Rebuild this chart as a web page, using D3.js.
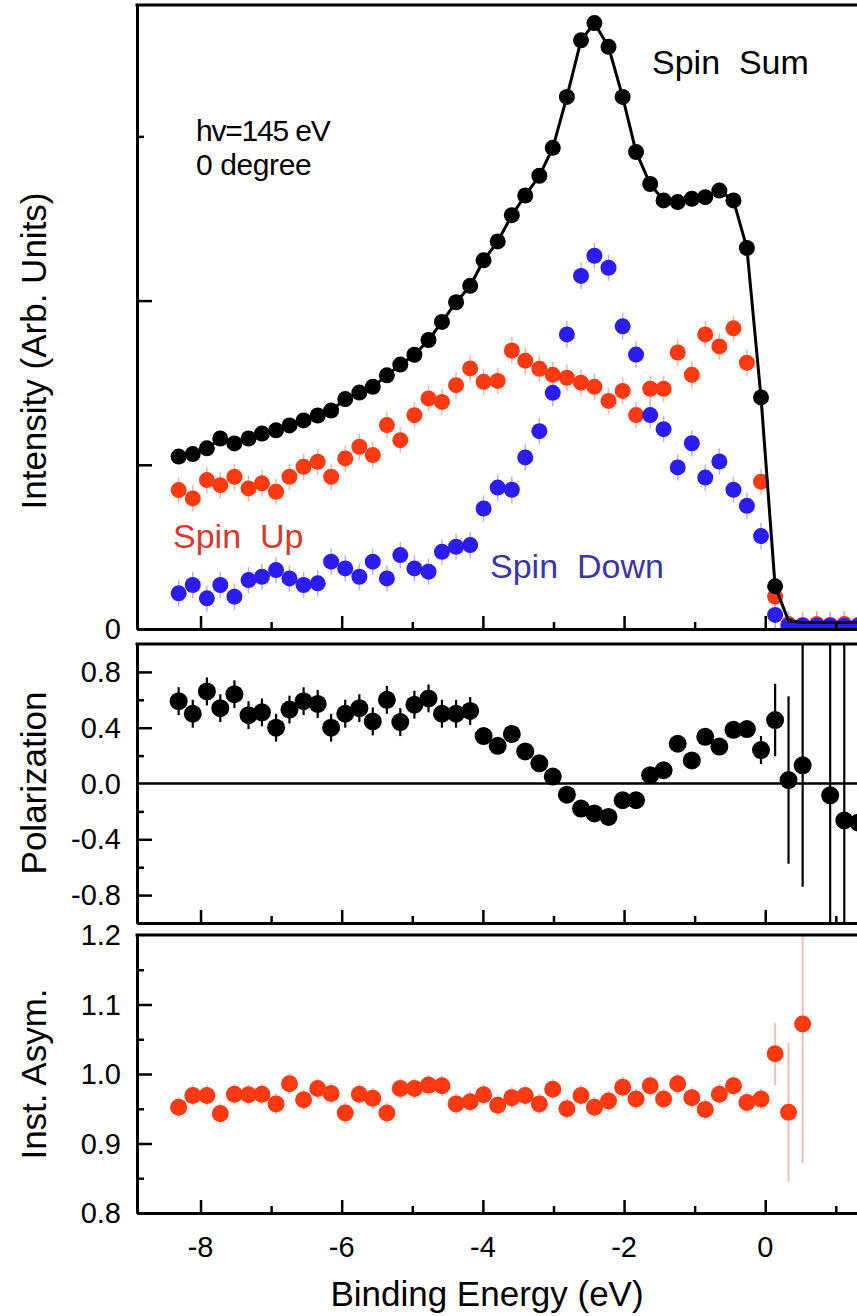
<!DOCTYPE html>
<html>
<head>
<meta charset="utf-8">
<script src="https://cdn.jsdelivr.net/npm/d3@7"></script>
<style>
  body { margin: 0; background: #fff; }
  svg text { font-family: "Liberation Sans", Arial, Helvetica, sans-serif; }
</style>
</head>
<body>
<svg id="chart" width="857" height="1316"></svg>
<script>
// binding energy of each measured point (eV)
const energy = [
  -8.31, -8.11, -7.91, -7.72, -7.52, -7.32, -7.13, -6.93, -6.74, -6.54,
  -6.34, -6.15, -5.95, -5.75, -5.56, -5.36, -5.17, -4.97, -4.77, -4.58,
  -4.38, -4.18, -3.99, -3.79, -3.59, -3.40, -3.20, -3.01, -2.81, -2.61,
  -2.42, -2.22, -2.02, -1.83, -1.63, -1.44, -1.24, -1.04, -0.85, -0.65,
  -0.45, -0.26, -0.06, 0.14, 0.33, 0.53, 0.73, 0.92, 1.12, 1.32
];

// intensity panel (arb. units)
const spinSum = [
  1.05, 1.065, 1.10, 1.16, 1.13, 1.16, 1.19, 1.21, 1.24, 1.27,
  1.30, 1.33, 1.40, 1.44, 1.475, 1.545, 1.61, 1.67, 1.76, 1.87,
  1.99, 2.09, 2.245, 2.36, 2.52, 2.64, 2.76, 2.93, 3.24, 3.585,
  3.69, 3.545, 3.24, 2.905, 2.71, 2.61, 2.60, 2.62, 2.63, 2.67,
  2.61, 2.32, 1.41, 0.26, 0.05, 0.04, 0.04, 0.04, 0.04, 0.04
];
const spinUp = [
  0.846, 0.795, 0.907, 0.876, 0.927, 0.856, 0.887, 0.836, 0.927, 0.988,
  1.018, 0.927, 1.039, 1.110, 1.059, 1.242, 1.150, 1.302, 1.404, 1.383,
  1.485, 1.587, 1.505, 1.511, 1.696, 1.634, 1.585, 1.548, 1.530, 1.500,
  1.475, 1.389, 1.450, 1.303, 1.463, 1.463, 1.684, 1.548, 1.794, 1.721,
  1.831, 1.622, 0.897, 0.197, 0.030, 0.025, 0.030, 0.025, 0.030, 0.025
];
const spinDown = [
  0.217, 0.268, 0.187, 0.268, 0.197, 0.298, 0.318, 0.359, 0.308, 0.268,
  0.278, 0.410, 0.369, 0.318, 0.410, 0.308, 0.450, 0.369, 0.349, 0.470,
  0.501, 0.511, 0.734, 0.861, 0.848, 1.045, 1.205, 1.438, 1.794, 2.150,
  2.273, 2.200, 1.843, 1.671, 1.303, 1.217, 0.984, 1.131, 0.922, 1.020,
  0.848, 0.750, 0.566, 0.086, 0.020, 0.020, 0.020, 0.020, 0.020, 0.020
];
const intensityErr = 0.08;

// polarization panel
const polarization = [
  0.59, 0.50, 0.66, 0.54, 0.64, 0.49, 0.51, 0.40, 0.53, 0.59,
  0.57, 0.40, 0.50, 0.54, 0.445, 0.60, 0.44, 0.565, 0.61, 0.50,
  0.50, 0.52, 0.34, 0.27, 0.355, 0.23, 0.145, 0.05, -0.08, -0.18,
  -0.215, -0.24, -0.12, -0.12, 0.06, 0.095, 0.285, 0.165, 0.335, 0.265,
  0.385, 0.39, 0.24, 0.455, 0.025, 0.13, null, -0.085, -0.265, -0.28
];
const polErr = [
  0.1, 0.1, 0.1, 0.1, 0.1, 0.1, 0.1, 0.1, 0.1, 0.1,
  0.1, 0.1, 0.1, 0.1, 0.1, 0.1, 0.1, 0.1, 0.1, 0.1,
  0.1, 0.1, 0.05, 0.05, 0.05, 0.05, 0.05, 0.05, 0.05, 0.05,
  0.05, 0.05, 0.05, 0.05, 0.05, 0.05, 0.05, 0.05, 0.05, 0.05,
  0.05, 0.05, 0.1, 0.26, 0.6, 0.87, null, 5, 5, 5
];

// instrument asymmetry panel
const instAsym = [
  0.952, 0.969, 0.969, 0.943, 0.971, 0.970, 0.971, 0.957, 0.986, 0.963,
  0.979, 0.972, 0.944, 0.971, 0.965, 0.944, 0.979, 0.979, 0.984, 0.983,
  0.957, 0.960, 0.970, 0.955, 0.966, 0.969, 0.957, 0.978, 0.950, 0.969,
  0.952, 0.961, 0.981, 0.964, 0.983, 0.964, 0.986, 0.966, 0.949, 0.971,
  0.983, 0.959, 0.964, 1.029, 0.945, 1.072
];
const asymErr = [
  0.015, 0.015, 0.015, 0.015, 0.015, 0.015, 0.015, 0.015, 0.015, 0.015,
  0.015, 0.015, 0.015, 0.015, 0.015, 0.015, 0.015, 0.015, 0.015, 0.015,
  0.015, 0.015, 0.015, 0.015, 0.015, 0.015, 0.015, 0.015, 0.015, 0.015,
  0.015, 0.015, 0.015, 0.015, 0.015, 0.015, 0.015, 0.015, 0.015, 0.015,
  0.015, 0.015, 0.015, 0.045, 0.1, 0.2
];

// ticks
const xMajor = [-8, -6, -4, -2, 0];
const xMinor = [-7, -5, -3, -1, 1];
const intMajor = [1, 2];
const intMinor = [3];
const polMajor = [0.8, 0.4, -0.4, -0.8];
const polMinor = [0.6, 0.2, -0.2, -0.6];
const polLabels = [0.8, 0.4, 0, -0.4, -0.8];
const asymMajor = [1.1, 1.0, 0.9];
const asymMinor = [1.15, 1.05, 0.95, 0.85];
const asymLabels = [1.2, 1.1, 1.0, 0.9, 0.8];

const W = 857, H = 1316;
const left = 137, right = 857;
const red = '#ff3a12', blue = '#2b1cf2', ink = '#000';

const svg = d3.select('#chart');
svg.append('rect').attr('width', W).attr('height', H).attr('fill', '#fff');

const x = d3.scaleLinear().domain([-8.9, 1.3]).range([left, right]);
const yInt = d3.scaleLinear().domain([0, 3.8]).range([629, 5]);
const yPol = d3.scaleLinear().domain([-1, 1]).range([923, 644]);
const yAsym = d3.scaleLinear().domain([0.8, 1.2]).range([1213, 935]);

const idx = d3.range(energy.length);

function makeClip(id, y) {
  svg.append('clipPath').attr('id', id).append('rect')
    .attr('x', left).attr('y', y.range()[1])
    .attr('width', right - left).attr('height', y.range()[0] - y.range()[1]);
}

// frame with inward ticks, no labels
function frame(y, yMajor, yMinor) {
  const g = svg.append('g');
  const bottom = y.range()[0], top = y.range()[1];

  const bx = g.append('g').attr('transform', `translate(0,${bottom})`);
  bx.append('g').call(d3.axisBottom(x).tickValues(xMajor).tickSize(-13).tickSizeOuter(0).tickFormat(''));
  bx.append('g').call(d3.axisBottom(x).tickValues(xMinor).tickSize(-7).tickSizeOuter(0).tickFormat(''));

  const ly = g.append('g').attr('transform', `translate(${left},0)`);
  ly.append('g').call(d3.axisLeft(y).tickValues(yMajor).tickSize(-15).tickSizeOuter(0).tickFormat(''));
  ly.append('g').call(d3.axisLeft(y).tickValues(yMinor).tickSize(-7).tickSizeOuter(0).tickFormat(''));

  g.selectAll('.domain').attr('stroke', ink).attr('stroke-width', 3);
  g.selectAll('.tick line').attr('stroke', ink).attr('stroke-width', 2.5);

  g.append('line')
    .attr('x1', left - 1.5).attr('x2', right)
    .attr('y1', top).attr('y2', top)
    .attr('stroke', ink).attr('stroke-width', 3);
  return g;
}

function errorBars(g, y, vals, errs, color, width) {
  g.append('g').selectAll('line')
    .data(idx.filter(i => i < vals.length && vals[i] != null && errs[i] != null))
    .join('line')
    .attr('x1', i => x(energy[i])).attr('x2', i => x(energy[i]))
    .attr('y1', i => y(vals[i] - errs[i])).attr('y2', i => y(vals[i] + errs[i]))
    .attr('stroke', color).attr('stroke-width', width);
}

function dots(g, y, vals, color, r) {
  g.append('g').selectAll('circle')
    .data(idx.filter(i => i < vals.length && vals[i] != null))
    .join('circle')
    .attr('cx', i => x(energy[i])).attr('cy', i => y(vals[i]))
    .attr('r', r).attr('fill', color);
}

// ---------- intensity panel ----------
makeClip('clip-int', yInt);
const gInt = svg.append('g').attr('clip-path', 'url(#clip-int)');
errorBars(gInt, yInt, spinUp, spinUp.map(() => intensityErr), '#f9b3a5', 1.5);
errorBars(gInt, yInt, spinDown, spinDown.map(() => intensityErr), '#b7b0f4', 1.5);
dots(gInt, yInt, spinUp, red, 8);
dots(gInt, yInt, spinDown, blue, 8);
gInt.append('path')
  .datum(idx)
  .attr('fill', 'none').attr('stroke', ink).attr('stroke-width', 3)
  .attr('d', d3.line().x(i => x(energy[i])).y(i => yInt(spinSum[i])));
dots(gInt, yInt, spinSum.slice(0, 44), ink, 8);
frame(yInt, intMajor, intMinor);

svg.append('text').attr('x', 121).attr('y', yInt(0)).attr('dy', '0.35em')
  .attr('text-anchor', 'end').attr('font-size', 29).text('0');

// ---------- polarization panel ----------
makeClip('clip-pol', yPol);
const gPol = svg.append('g').attr('clip-path', 'url(#clip-pol)');
gPol.append('line')
  .attr('x1', left).attr('x2', right).attr('y1', yPol(0)).attr('y2', yPol(0))
  .attr('stroke', ink).attr('stroke-width', 2.5);
errorBars(gPol, yPol, polarization, polErr, ink, 2.2);
dots(gPol, yPol, polarization, ink, 9);
frame(yPol, polMajor, polMinor);

svg.append('g').selectAll('text')
  .data(polLabels).join('text')
  .attr('x', 121).attr('y', d => yPol(d)).attr('dy', '0.35em')
  .attr('text-anchor', 'end').attr('font-size', 29)
  .text(d => d3.format('.1f')(d).replace('−', '-'));

// ---------- instrument asymmetry panel ----------
makeClip('clip-asym', yAsym);
const gAsym = svg.append('g').attr('clip-path', 'url(#clip-asym)');
errorBars(gAsym, yAsym, instAsym, asymErr, '#f6bdb4', 2);
dots(gAsym, yAsym, instAsym, red, 8.5);
frame(yAsym, asymMajor, asymMinor);

svg.append('g').selectAll('text')
  .data(asymLabels).join('text')
  .attr('x', 121).attr('y', d => yAsym(d)).attr('dy', '0.35em')
  .attr('text-anchor', 'end').attr('font-size', 29)
  .text(d => d3.format('.1f')(d));

// x tick labels
svg.append('g').selectAll('text')
  .data(xMajor).join('text')
  .attr('x', d => x(d)).attr('y', 1257)
  .attr('text-anchor', 'middle').attr('font-size', 29)
  .text(d => String(d));

// axis titles
svg.append('text').attr('x', 487).attr('y', 1306)
  .attr('text-anchor', 'middle').attr('font-size', 35).text('Binding Energy (eV)');

const yTitles = [
  { text: 'Intensity (Arb. Units)', cy: 351 },
  { text: 'Polarization', cy: 783 },
  { text: 'Inst. Asym.', cy: 1074 }
];
svg.append('g').selectAll('text')
  .data(yTitles).join('text')
  .attr('transform', d => `translate(46,${d.cy}) rotate(-90)`)
  .attr('text-anchor', 'middle').attr('font-size', 35)
  .text(d => d.text);

// annotations
svg.append('text').attr('x', 196).attr('y', 141).attr('font-size', 30)
  .attr('letter-spacing', -1.2).text('hv=145 eV');
svg.append('text').attr('x', 196).attr('y', 175).attr('font-size', 30)
  .attr('letter-spacing', -0.4).text('0 degree');
svg.append('text').attr('x', 652).attr('y', 74).attr('font-size', 34).text('Spin\u00a0\u00a0Sum');
svg.append('text').attr('x', 173).attr('y', 548).attr('font-size', 34).attr('fill', '#d9382c').text('Spin\u00a0\u00a0Up');
svg.append('text').attr('x', 490).attr('y', 578).attr('font-size', 34).attr('fill', '#3a36a6').text('Spin\u00a0\u00a0Down');
</script>
</body>
</html>
